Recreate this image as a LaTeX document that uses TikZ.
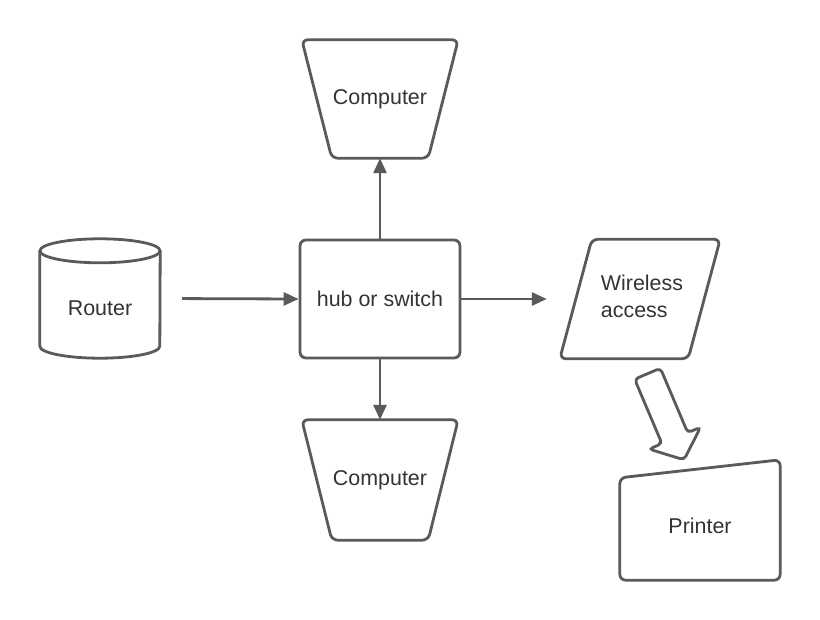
\documentclass[tikz,border=0pt]{standalone}
\usepackage{fontspec}
\setmainfont{Liberation Sans}
\usepackage{xcolor}
\usepackage{tikz}
\usetikzlibrary{arrows.meta, positioning, calc}
\definecolor{net-line}{RGB}{90, 90, 90}
\definecolor{net-text}{RGB}{51, 51, 51}

\begin{document}
\begin{tikzpicture}[
    x=1bp, y=-1bp,
    line/.style={draw=net-line, line width=2.8bp},
    arr/.style={line, -{Triangle[length=15bp, width=13bp]}},
    lbl/.style={font=\fontsize{21.5}{27}\selectfont, text=net-text, inner sep=0pt},
    shapebox/.style={lbl, minimum width=160bp, minimum height=118bp}
  ]
    \useasboundingbox[fill=white] (0,0) rectangle (820,620);

    % nodes
    \node[shapebox, minimum width=156bp] (comptop) at (380,99) {Computer};
    \node[shapebox, minimum width=120bp, minimum height=119bp, text height=34bp, text depth=0pt] (router) at (100,298.5) {Router};
    \node[shapebox, line, rounded corners=6bp] (hub) at (380,299) {hub or switch};
    \node[shapebox, minimum height=119bp, align=left, text depth=6bp] (wless) at (640,299) {\hspace*{4bp}Wireless\\\hspace*{4bp}access};
    \node[shapebox, minimum width=156bp, minimum height=120bp] (compbot) at (380,480) {Computer};
    \node[shapebox, minimum height=120bp, text height=26bp, text depth=0pt] (printer) at (700,520) {Printer};

    % outlines
    \draw[line, rounded corners=6bp] (comptop.north west) -- (comptop.north east)
      -- ($(comptop.south east)+(-30,0)$) -- ($(comptop.south west)+(30,0)$) -- cycle;
    \draw[line, rounded corners=6bp] (compbot.north west) -- (compbot.north east)
      -- ($(compbot.south east)+(-30,0)$) -- ($(compbot.south west)+(30,0)$) -- cycle;
    \draw[line] ($(router.north)+(0,12)$) ellipse [x radius=60bp, y radius=12bp];
    \draw[line] ($(router.north west)+(0,12)$) -- ($(router.south west)+(0,-12)$)
      arc [start angle=180, end angle=360, x radius=60bp, y radius=12bp]
      -- ($(router.north east)+(0,12)$);
    \draw[line, rounded corners=6bp] ($(wless.north west)+(32,0)$) -- (wless.north east)
      -- ($(wless.south east)+(-32,0)$) -- (wless.south west) -- cycle;
    \draw[line, rounded corners=6bp] ($(printer.north west)+(0,18)$) -- (printer.north east)
      -- (printer.south east) -- (printer.south west) -- cycle;

    % connectors
    \draw[arr, shorten <=22bp] (router.east) -- (hub.west);
    \draw[arr] (hub.north) -- (comptop.south);
    \draw[arr] (hub.south) -- (compbot.north);
    \draw[arr, shorten >=13bp] (hub.east) -- (wless.west);

    % block arrow to printer
    \coordinate (bt) at ($(wless.south)+(7.5,15)$);
    \coordinate (bh) at ($(printer.north)+(-16,0)$);
    \coordinate (bb) at ($(bt)!70bp!(bh)$);
    \draw[line, rounded corners=4bp] ($(bt)!14bp!-90:(bh)$) -- ($(bb)!14bp!-90:(bh)$)
      -- ($(bb)!28bp!-90:(bh)$) -- (bh) -- ($(bb)!28bp!90:(bh)$)
      -- ($(bb)!14bp!90:(bh)$) -- ($(bt)!14bp!90:(bh)$) -- cycle;
  \end{tikzpicture}
\end{document}
